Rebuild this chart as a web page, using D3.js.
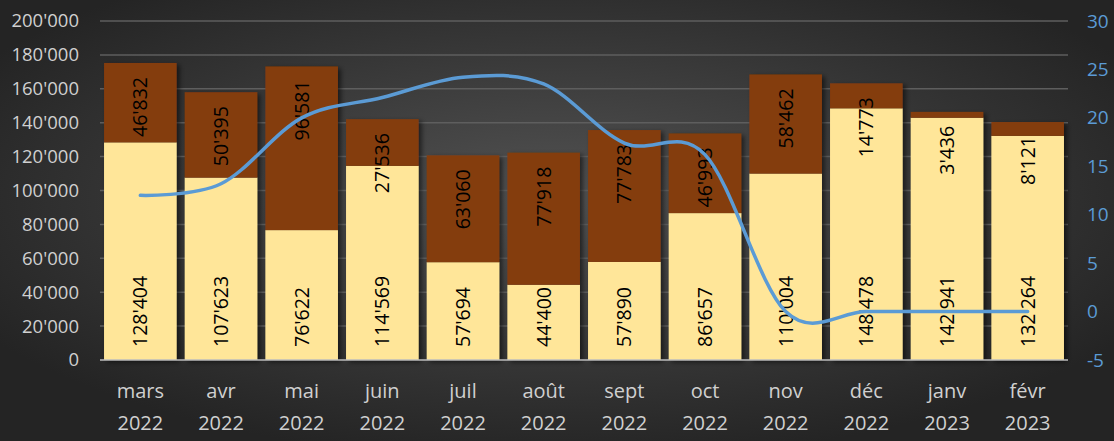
<!DOCTYPE html>
<html>
<head>
<meta charset="utf-8">
<script src="https://cdn.jsdelivr.net/npm/d3@7"></script>
<style>
  html, body { margin: 0; padding: 0; background: #262626; }
  svg { display: block; font-family: "Open Sans", sans-serif; }
</style>
</head>
<body>
<div id="chart-area"></div>
<script>
// data
var months = ["mars", "avr", "mai", "juin", "juil", "août", "sept", "oct", "nov", "déc", "janv", "févr"];
var years = ["2022", "2022", "2022", "2022", "2022", "2022", "2022", "2022", "2022", "2022", "2023", "2023"];
var baseValues = [128404, 107623, 76622, 114569, 57694, 44400, 57890, 86657, 110004, 148478, 142941, 132264];
var topValues = [46832, 50395, 96581, 27536, 63060, 77918, 77783, 46993, 58462, 14773, 3436, 8121];
var lineValues = [12, 13.2, 20, 22.1, 24.2, 23.5, 17.4, 16.2, 0, 0, 0, 0];
var leftTicks = [0, 20000, 40000, 60000, 80000, 100000, 120000, 140000, 160000, 180000, 200000];
var rightTicks = [-5, 0, 5, 10, 15, 20, 25, 30];

var width = 1114, height = 441;
var plot = {left: 100, right: 1068, top: 21, bottom: 360};

var svg = d3.select("#chart-area").append("svg").attr("width", width).attr("height", height);
var defs = svg.append("defs");

var grad = defs.append("radialGradient").attr("id", "bg")
    .attr("cx", "50%").attr("cy", "45%").attr("r", "60%");
grad.append("stop").attr("offset", "0%").attr("stop-color", "#525252");
grad.append("stop").attr("offset", "100%").attr("stop-color", "#242424");

var shadow = defs.append("filter").attr("id", "shadow")
    .attr("x", "-20%").attr("y", "-20%").attr("width", "150%").attr("height", "150%");
shadow.append("feDropShadow").attr("dx", 3).attr("dy", 2).attr("stdDeviation", 2.5)
    .attr("flood-color", "#000").attr("flood-opacity", 0.55);

svg.append("rect").attr("width", width).attr("height", height).attr("fill", "url(#bg)");

var x = d3.scaleBand().domain(months).range([plot.left, plot.right]).paddingInner(0.1).paddingOuter(0.05);
var y = d3.scaleLinear().domain([0, 200000]).range([plot.bottom, plot.top]);
var y2 = d3.scaleLinear().domain([-5, 30]).range([plot.bottom, plot.top]);

// gridlines
svg.append("g").selectAll("line").data(leftTicks.slice(1)).enter().append("line")
    .attr("x1", plot.left).attr("x2", plot.right)
    .attr("y1", d => y(d)).attr("y2", d => y(d))
    .attr("stroke", "#5e5e5e").attr("stroke-width", 1.5);

// left axis
var fmt = d => d3.format(",")(d).replace(/,/g, "'");
var yAxis = d3.axisLeft(y).tickValues(leftTicks).tickSize(0).tickPadding(0).tickFormat(fmt);
var gy = svg.append("g").attr("transform", "translate(79,0)").call(yAxis);
gy.select(".domain").remove();
gy.selectAll("text").attr("fill", "#d0d0d0").attr("font-size", "18.5px")
    .attr("font-family", "Open Sans, sans-serif");

// right axis
var y2Axis = d3.axisRight(y2).tickValues(rightTicks).tickSize(0).tickPadding(0).tickFormat(d => String(d));
var gy2 = svg.append("g").attr("transform", "translate(1087,0)").call(y2Axis);
gy2.select(".domain").remove();
gy2.selectAll("text").attr("fill", "#5b9bd5").attr("font-size", "19px")
    .attr("font-family", "Open Sans, sans-serif");

// bars
var data = months.map((m, i) => ({month: m, year: years[i], base: baseValues[i], top: topValues[i]}));
var bars = svg.append("g").attr("filter", "url(#shadow)");
bars.selectAll("rect.base").data(data).enter().append("rect").attr("class", "base")
    .attr("x", d => x(d.month)).attr("width", x.bandwidth())
    .attr("y", d => y(d.base)).attr("height", d => y(0) - y(d.base))
    .attr("fill", "#ffe699");
bars.selectAll("rect.top").data(data).enter().append("rect").attr("class", "top")
    .attr("x", d => x(d.month)).attr("width", x.bandwidth())
    .attr("y", d => y(d.base + d.top)).attr("height", d => y(d.base) - y(d.base + d.top))
    .attr("fill", "#843c0c");

// baseline
svg.append("line").attr("x1", plot.left).attr("x2", plot.right)
    .attr("y1", y(0)).attr("y2", y(0)).attr("stroke", "#bdbdbd").attr("stroke-width", 1.5);

// bar labels
var labels = svg.append("g").attr("font-size", "19.5px").attr("fill", "#000");
labels.selectAll("text.base").data(data).enter().append("text")
    .attr("transform", d => "translate(" + (x(d.month) + x.bandwidth() / 2) + "," + (y(0) - 13) + ") rotate(-90)")
    .attr("dy", "0.36em").attr("text-anchor", "start").text(d => fmt(d.base));
labels.selectAll("text.top").data(data).enter().append("text")
    .attr("transform", d => "translate(" + (x(d.month) + x.bandwidth() / 2) + "," + (y(d.base + d.top) + 14) + ") rotate(-90)")
    .attr("dy", "0.36em").attr("text-anchor", "end").text(d => fmt(d.top));

// line
var line = d3.line().x((d, i) => x(months[i]) + x.bandwidth() / 2).y(d => y2(d))
    .curve(d3.curveCardinal.tension(0));
svg.append("path").datum(lineValues).attr("d", line)
    .attr("fill", "none").attr("stroke", "#5b9bd5").attr("stroke-width", 3.5).attr("stroke-linecap", "round");

// x labels
var xl = svg.append("g").attr("fill", "#d0d0d0").attr("font-size", "20px").attr("text-anchor", "middle");
xl.selectAll("text.m").data(data).enter().append("text")
    .attr("x", d => x(d.month) + x.bandwidth() / 2).attr("y", 398).text(d => d.month);
xl.selectAll("text.y").data(data).enter().append("text")
    .attr("x", d => x(d.month) + x.bandwidth() / 2).attr("y", 430).text(d => d.year);
</script>
</body>
</html>
